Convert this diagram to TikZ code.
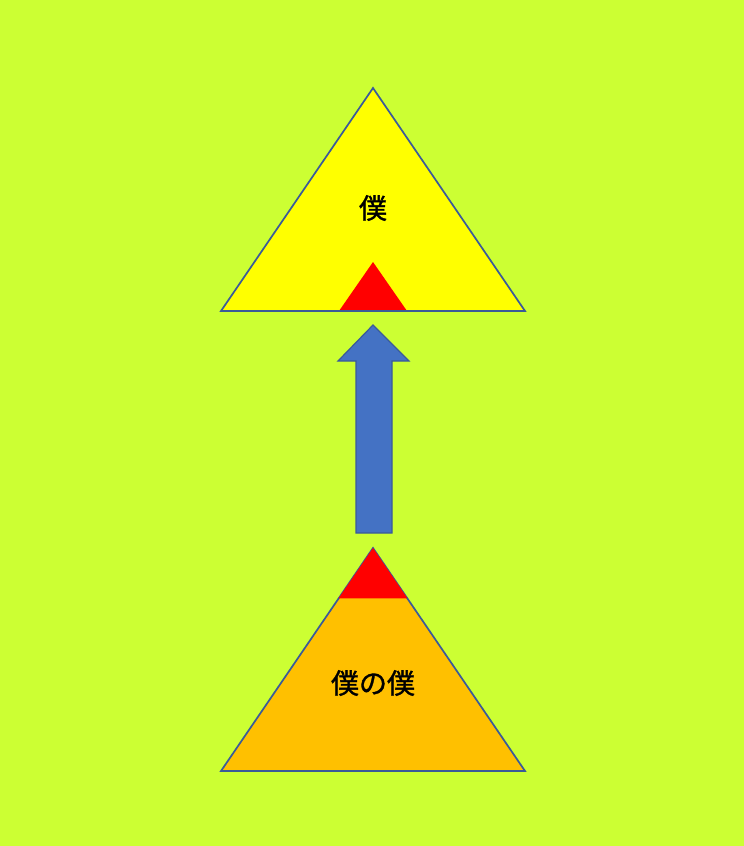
\documentclass[tikz,border=0pt]{standalone}
\usepackage{fontspec}
\newfontfamily\cjk[FakeBold=1.2]{Noto Sans CJK JP}
\definecolor{bg}{HTML}{CCFF33}
\definecolor{edge}{HTML}{3A5A9A}
\definecolor{tyellow}{HTML}{FFFF00}
\definecolor{torange}{HTML}{FFC000}
\definecolor{tred}{HTML}{FF0000}
\definecolor{arrowblue}{HTML}{4472C4}
\tikzset{
  bigtri/.style={draw=edge, line width=1.7pt, line join=miter},
  redtri/.style={fill=tred, draw=none},
  bigarrow/.style={fill=arrowblue, draw=edge, line width=1.2pt},
  lbl/.style={font=\cjk\fontsize{28}{30}\selectfont, text=black, inner sep=0pt}
}
\begin{document}
\begin{tikzpicture}[x=1pt,y=-1pt]
\fill[bg] (0,0) rectangle (744,846);
\useasboundingbox (0,0) rectangle (744,846);
% top triangle
\coordinate (ta) at (373,88);
\coordinate (tl) at (221,311);
\coordinate (tr) at (525,311);
\fill[tyellow] (ta) -- (tl) -- (tr) -- cycle;
\fill[redtri] (373,262) -- (339,311) -- (407,311) -- cycle;
\draw[bigtri] (ta) -- (tl) -- (tr) -- cycle;
\node[lbl] (top) at (373,208) {僕};
% bottom triangle
\coordinate (ba) at (373,548);
\coordinate (bl) at (221,771);
\coordinate (br) at (525,771);
\fill[torange] (ba) -- (bl) -- (br) -- cycle;
\draw[bigtri] (ba) -- (bl) -- (br) -- cycle;
\fill[redtri] (ba) -- (338.6,598.3) -- (407.4,598.3) -- cycle;
\node[lbl] (bottom) at (373,683) {僕の僕};
% arrow
\draw[bigarrow] (356,533) -- (356,361) -- (338,361) -- (373,325) -- (409,361) -- (392,361) -- (392,533) -- cycle;
\end{tikzpicture}
\end{document}
